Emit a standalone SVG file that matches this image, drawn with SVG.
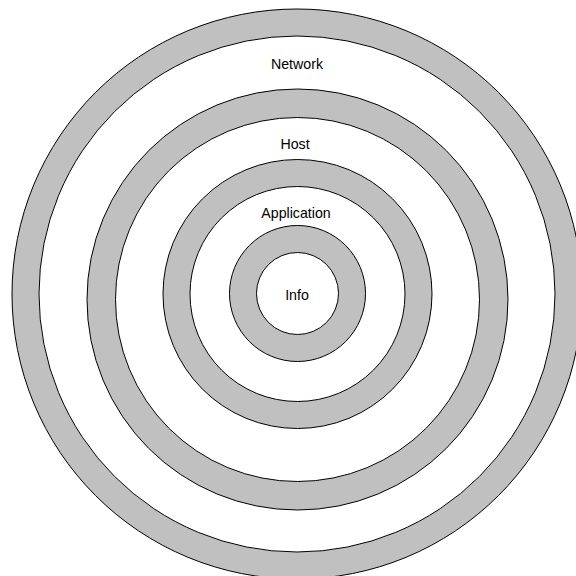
<svg xmlns="http://www.w3.org/2000/svg" width="576" height="576" viewBox="0 0 576 576">
<style>
.band{fill:#c0c0c0;stroke:#000;stroke-width:1}
.hole{fill:#fff;stroke:#000;stroke-width:1}
.lbl{font-family:"Liberation Sans",Arial,sans-serif;font-size:14.2px;fill:#000;text-anchor:middle}
</style>
<rect width="576" height="576" fill="#fff"/>
<g id="network">
<circle class="band" cx="297" cy="294" r="285"/>
<circle class="hole" cx="297" cy="294" r="258"/>
<text class="lbl" x="297" y="69">Network</text>
</g>
<g id="host">
<circle class="band" cx="297.5" cy="299.5" r="210.5"/>
<circle class="hole" cx="297.5" cy="299.5" r="182"/>
<text class="lbl" x="295" y="149">Host</text>
</g>
<g id="application">
<circle class="band" cx="297.5" cy="294" r="134.5"/>
<circle class="hole" cx="297.5" cy="294" r="107.5"/>
<text class="lbl" x="296" y="218">Application</text>
</g>
<g id="info">
<circle class="band" cx="297.5" cy="293.5" r="68"/>
<circle class="hole" cx="297.5" cy="293.5" r="41"/>
<text class="lbl" x="297" y="300">Info</text>
</g>
<g id="connectors"/>
</svg>
